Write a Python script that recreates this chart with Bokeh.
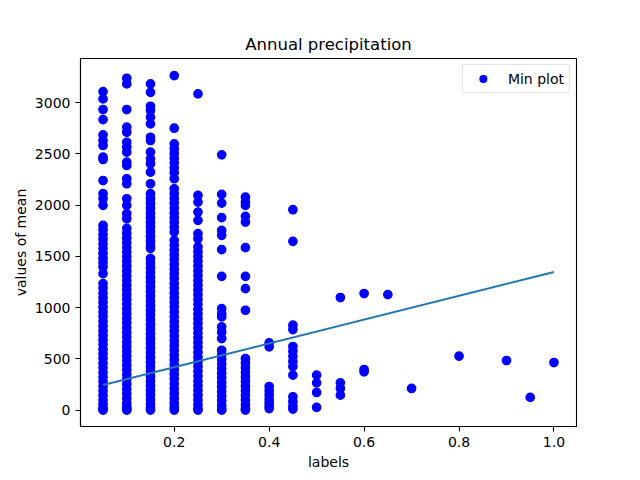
import numpy as np
from bokeh.plotting import figure
from bokeh.embed import file_html
from bokeh.resources import INLINE
from bokeh.models import FixedTicker, Range1d, CustomJSTickFormatter

# column labels (x) and the mean values read for each label
labels = [0.05, 0.1, 0.15, 0.2, 0.25, 0.3, 0.35, 0.4, 0.45,
          0.5, 0.55, 0.6, 0.65, 0.7, 0.8, 0.9, 0.95, 1.0]

mean_005 = [3107, 3036, 2932, 2834, 2685, 2630, 2581, 2467, 2445, 2240, 2111, 2062, 1997,
            1802, 1760, 1712, 1668, 1620, 1575, 1528, 1482, 1440, 1396, 1331,
            1234, 1190, 1142, 1096, 1050, 1003, 958, 912, 866, 820, 775, 730, 684, 640,
            592, 548, 503, 456, 412, 366, 322, 278, 232, 188, 142, 98, 55, 20, 5, 0]
mean_010 = [3237, 3182, 2932, 2760, 2711, 2613, 2565, 2516, 2419, 2386, 2257, 2208, 2062,
            1997, 1916, 1867, 1773, 1726, 1680, 1634, 1588, 1540, 1495, 1450, 1403, 1357,
            1310, 1264, 1218, 1172, 1125, 1080, 1034, 988, 942, 895, 850, 804, 758, 712,
            666, 620, 574, 528, 482, 436, 390, 344, 298, 252, 206, 160, 114, 68, 30, 8, 0]
mean_015 = [3182, 3100, 2964, 2922, 2857, 2792, 2662, 2630, 2516, 2451, 2403, 2321, 2208,
            2111, 2062, 2016, 1970, 1924, 1878, 1832, 1786, 1740, 1694, 1648, 1602, 1578,
            1480, 1434, 1388, 1342, 1296, 1250, 1204, 1158, 1112, 1066, 1020, 974, 928, 882,
            836, 790, 744, 698, 652, 606, 560, 514, 468, 422, 376, 330, 284, 238, 192, 146,
            100, 56, 20, 0]
mean_020 = [3263, 2750, 2597, 2550, 2503, 2456, 2410, 2363, 2316, 2257,
            2159, 2112, 2065, 2018, 1971, 1924, 1877, 1830, 1783, 1737,
            1656, 1610, 1563, 1516, 1470, 1423, 1376, 1330, 1283, 1236, 1190, 1143, 1096,
            1050, 1003, 956, 910, 863, 816, 770, 723, 676, 630, 583, 536, 490, 443, 396,
            350, 303, 256, 210, 163, 116, 70, 30, 0]
mean_025 = [3085, 2094, 2029, 1932, 1851, 1721, 1672, 1591, 1545, 1498, 1452, 1405, 1358,
            1312, 1265, 1218, 1172, 1125, 1078, 1032, 985, 938, 892, 845, 798, 752, 705,
            658, 612, 565, 518, 472, 425, 378, 332, 285, 238, 192, 145, 98, 52, 15, 0]
mean_030 = [2490, 2104, 2019, 1877, 1753, 1705, 1565, 1305, 990, 940, 909, 811, 760, 698,
            584, 540, 495, 450, 405, 360, 315, 270, 225, 180, 135, 90, 45, 10, 0]
mean_035 = [2078, 2029, 1997, 1890, 1834, 1585, 1305, 1185, 974,
            503, 458, 413, 368, 323, 278, 233, 188, 143, 98, 53, 15, 0]
mean_040 = [656, 617, 230, 190, 150, 110, 75, 40, 15]
mean_045 = [1955, 1646, 828, 786, 620, 575, 525, 475, 425, 341, 130, 85, 40, 10]
mean_050 = [341, 266, 172, 26]
mean_055 = [1098, 266, 211, 146]
mean_060 = [1137, 396, 373]
mean_065 = [1127]
mean_070 = [211]
mean_080 = [526]
mean_090 = [484]
mean_095 = [124]
mean_100 = [464]

all_means = [mean_005, mean_010, mean_015, mean_020, mean_025, mean_030, mean_035,
             mean_040, mean_045, mean_050, mean_055, mean_060, mean_065, mean_070,
             mean_080, mean_090, mean_095, mean_100]

# fitted line, read at its two ends
fit_x = [0.05, 1.0]
fit_y = [244, 1347]

x_ticks = [0.2, 0.4, 0.6, 0.8, 1.0]
y_ticks = [0, 500, 1000, 1500, 2000, 2500, 3000]

xs = []
ys = []
for lab, vals in zip(labels, all_means):
    xs.extend([lab] * len(vals))
    ys.extend(vals)

FONT = "DejaVu Sans"

p = figure(width=632, height=472, output_backend="svg", toolbar_location=None,
           title="Annual precipitation",
           x_range=Range1d(0.0025, 1.0475), y_range=Range1d(-160, 3430),
           min_border_left=80, min_border_right=56, min_border_top=58, min_border_bottom=46)

p.scatter(xs, ys, size=8.4, color="blue", line_width=1.3, legend_label="Min plot")
p.line(fit_x, fit_y, color="#1f77b4", line_width=2)

# title
p.title.align = "center"
p.title.text_font = FONT
p.title.text_font_size = "16.5px"
p.title.text_font_style = "normal"
p.title.text_color = "black"

# frame and grid
p.grid.visible = False
p.outline_line_color = "black"
p.outline_line_width = 1.1
p.background_fill_color = "white"
p.border_fill_color = "white"

# axes
p.xaxis.ticker = FixedTicker(ticks=x_ticks)
p.yaxis.ticker = FixedTicker(ticks=y_ticks)
p.xaxis.formatter = CustomJSTickFormatter(code="return tick.toFixed(1);")
p.xaxis.axis_label = "labels"
p.yaxis.axis_label = "values of mean"
p.axis.axis_line_color = "black"
p.axis.axis_line_width = 1.1
p.axis.major_tick_line_color = "black"
p.axis.major_tick_line_width = 1.1
p.axis.major_tick_out = 5
p.axis.major_tick_in = 0
p.axis.minor_tick_line_color = None
p.axis.major_label_text_font = FONT
p.axis.major_label_text_font_size = "14px"
p.axis.major_label_text_color = "black"
p.axis.major_label_standoff = 5
p.axis.axis_label_text_font = FONT
p.axis.axis_label_text_font_size = "14px"
p.axis.axis_label_text_font_style = "normal"
p.axis.axis_label_text_color = "black"
p.xaxis.axis_label_standoff = 4
p.yaxis.axis_label_standoff = 3

# legend
p.legend.location = "top_right"
p.legend.margin = 6
p.legend.padding = 5
p.legend.label_text_font = FONT
p.legend.label_text_font_size = "14px"
p.legend.label_text_color = "black"
p.legend.border_line_color = "#cccccc"
p.legend.border_line_width = 1
p.legend.glyph_width = 30
p.legend.glyph_height = 17
p.legend.label_height = 17
p.legend.label_standoff = 10

open("out.html", "w").write(file_html(p, INLINE))
